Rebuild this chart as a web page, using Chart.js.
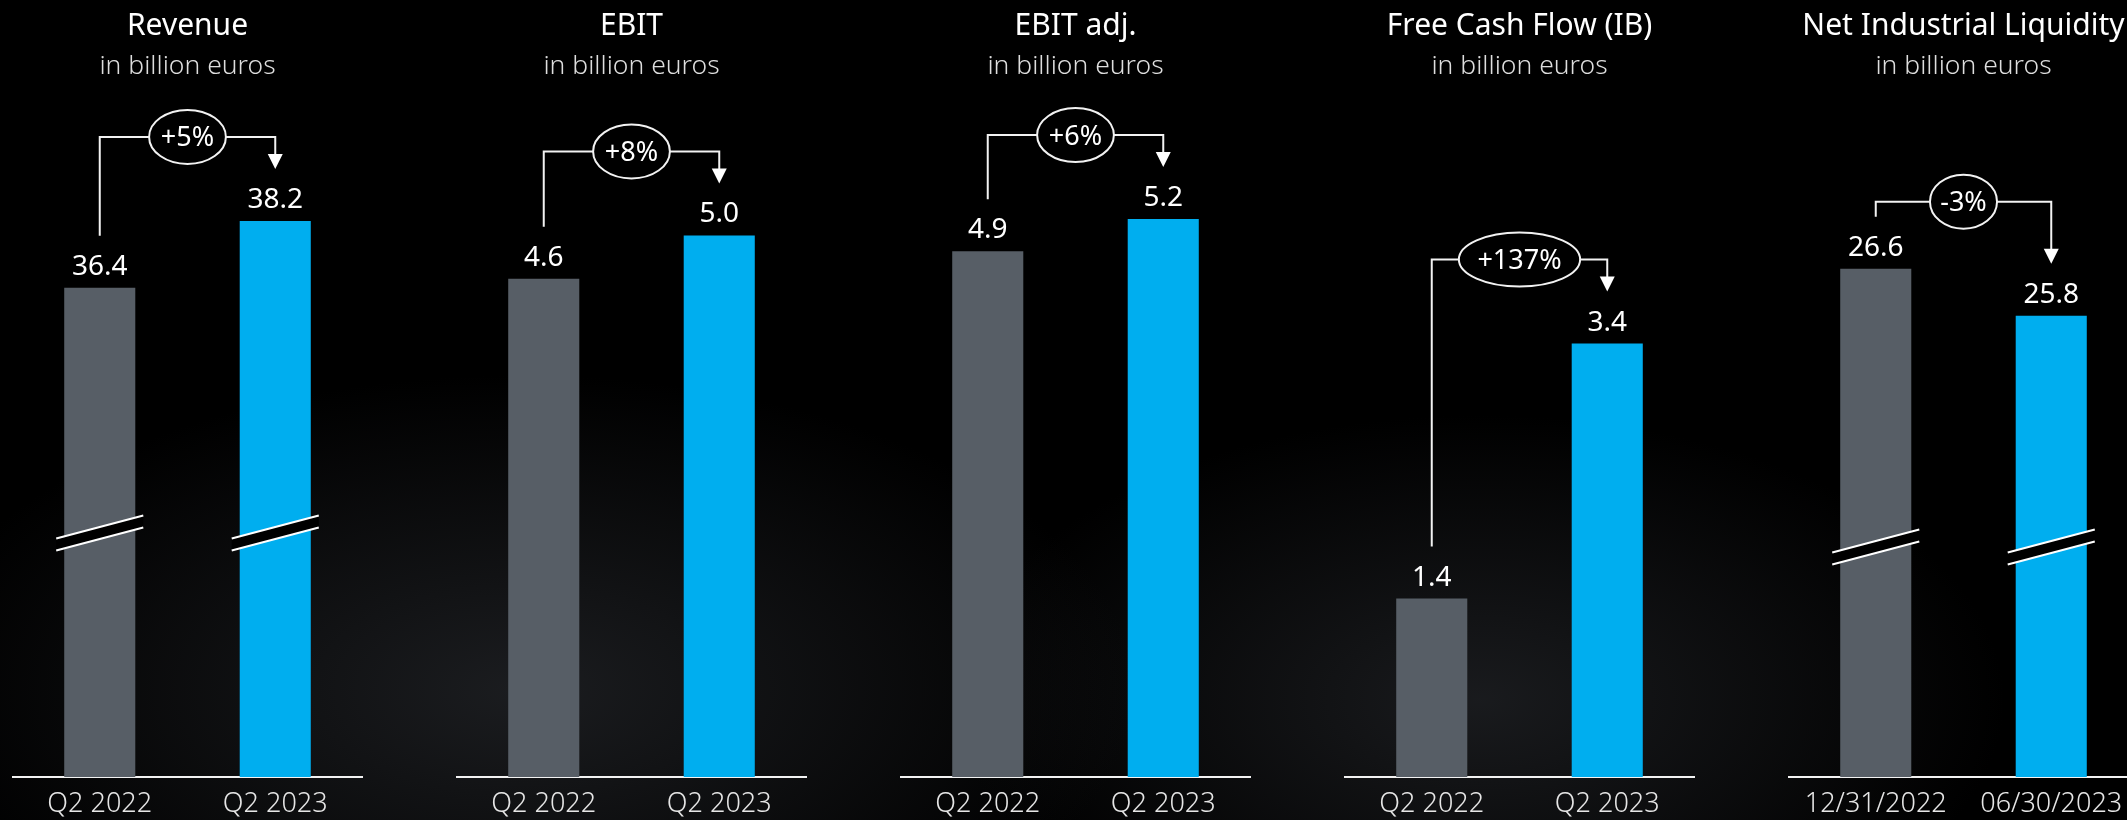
<!DOCTYPE html>
<html>
<head>
<meta charset="utf-8">
<script src="https://cdn.jsdelivr.net/npm/chart.js@4.4.0/dist/chart.umd.min.js"></script>
<style>
  html, body { margin: 0; padding: 0; width: 2127px; height: 820px; overflow: hidden; }
  body {
    position: relative;
    background:
      radial-gradient(ellipse 820px 420px at 520px 690px, rgba(36,38,42,0.75), rgba(0,0,0,0) 75%),
      radial-gradient(ellipse 700px 380px at 1480px 700px, rgba(36,38,42,0.7), rgba(0,0,0,0) 75%),
      #000;
  }
  .panel { position: absolute; top: 0; width: 351px; height: 820px; }
</style>
</head>
<body>
<script>
// chart data
const panelTitles = ['Revenue', 'EBIT', 'EBIT adj.', 'Free Cash Flow (IB)', 'Net Industrial Liquidity'];
const unitLabel = 'in billion euros';
const periodLabels = [
  ['Q2 2022', 'Q2 2023'],
  ['Q2 2022', 'Q2 2023'],
  ['Q2 2022', 'Q2 2023'],
  ['Q2 2022', 'Q2 2023'],
  ['12/31/2022', '06/30/2023']
];
const priorValues = [36.4, 4.6, 4.9, 1.4, 26.6];
const currentValues = [38.2, 5.0, 5.2, 3.4, 25.8];
const changeLabels = ['+5%', '+8%', '+6%', '+137%', '-3%'];

// axis ranges (revenue and liquidity use a broken axis)
const axisMin = [23.25, 0, 0, 0, 17.95];
const axisMax = [41.45, 6.25, 6.31, 5.31, 29.47];

// look
const bracketRise = [84, 84, 84, 84, 67];
const breakRise = [244, 0, 0, 0, 230];
const barColors = ['#575e66', '#00aeef'];
const fontFamily = "'Noto Sans', 'Open Sans', sans-serif";

const annotatePlugin = {
  id: 'annotate',
  afterDatasetsDraw(chart, args, opts) {
    const ctx = chart.ctx;
    const meta = chart.getDatasetMeta(0);
    const b0 = meta.data[0], b1 = meta.data[1];
    const area = chart.chartArea;
    const values = chart.data.datasets[0].data;
    ctx.save();

    // axis break marks
    if (opts.breakRise) {
      const yc = area.bottom - opts.breakRise;
      meta.data.forEach(bar => {
        const xl = bar.x - bar.width / 2 - 8;
        const xr = bar.x + bar.width / 2 + 8;
        const dy = (xr - xl) * 0.132;
        const g = 6;
        ctx.beginPath();
        ctx.moveTo(xl, yc + dy - g);
        ctx.lineTo(xr, yc - dy - g);
        ctx.lineTo(xr, yc - dy + g);
        ctx.lineTo(xl, yc + dy + g);
        ctx.closePath();
        ctx.fillStyle = '#000';
        ctx.fill();
        ctx.strokeStyle = '#fff';
        ctx.lineWidth = 2;
        ctx.beginPath();
        ctx.moveTo(xl, yc + dy - g); ctx.lineTo(xr, yc - dy - g);
        ctx.moveTo(xl, yc + dy + g); ctx.lineTo(xr, yc - dy + g);
        ctx.stroke();
      });
    }

    // value labels
    ctx.fillStyle = '#fff';
    ctx.textAlign = 'center';
    ctx.textBaseline = 'alphabetic';
    ctx.font = '28px ' + fontFamily;
    meta.data.forEach((bar, i) => {
      ctx.fillText(values[i].toFixed(1), bar.x, bar.y - 13);
    });

    // change bracket
    const yb = Math.min(b0.y, b1.y) - opts.bracketRise;
    const cx = (b0.x + b1.x) / 2;
    ctx.font = '27px ' + fontFamily;
    const tw = ctx.measureText(opts.change).width;
    const rx = tw * 0.72, ry = 27;
    ctx.strokeStyle = '#f2f2f2';
    ctx.lineWidth = 2;
    ctx.beginPath();
    ctx.moveTo(b0.x, b0.y - 52);
    ctx.lineTo(b0.x, yb);
    ctx.lineTo(cx - rx, yb);
    ctx.moveTo(cx + rx, yb);
    ctx.lineTo(b1.x, yb);
    ctx.lineTo(b1.x, b1.y - 64);
    ctx.stroke();
    ctx.beginPath();
    ctx.ellipse(cx, yb, rx, ry, 0, 0, Math.PI * 2);
    ctx.stroke();
    ctx.beginPath();
    ctx.moveTo(b1.x - 7.5, b1.y - 67);
    ctx.lineTo(b1.x + 7.5, b1.y - 67);
    ctx.lineTo(b1.x, b1.y - 52);
    ctx.closePath();
    ctx.fillStyle = '#fff';
    ctx.fill();
    ctx.fillText(opts.change, cx, yb + 9.5);

    ctx.restore();
  }
};

panelTitles.forEach((title, i) => {
  const div = document.createElement('div');
  div.className = 'panel';
  div.style.left = (12 + 444 * i) + 'px';
  const canvas = document.createElement('canvas');
  canvas.width = 351;
  canvas.height = 820;
  div.appendChild(canvas);
  document.body.appendChild(div);

  new Chart(canvas, {
    type: 'bar',
    data: {
      labels: periodLabels[i],
      datasets: [{
        data: [priorValues[i], currentValues[i]],
        backgroundColor: barColors,
        barPercentage: 0.405,
        categoryPercentage: 1
      }]
    },
    options: {
      responsive: false,
      animation: false,
      layout: { padding: 0 },
      scales: {
        x: {
          grid: { display: false, drawTicks: false },
          border: { display: true, color: '#f2f2f2', width: 2 },
          ticks: {
            color: '#e6e6e6',
            padding: 11,
            maxRotation: 0,
            autoSkip: false,
            font: { family: fontFamily, size: 27, weight: '300', lineHeight: 1.2 }
          },
          afterFit(scale) { scale.height = 43; }
        },
        y: { display: false, min: axisMin[i], max: axisMax[i] }
      },
      plugins: {
        legend: { display: false },
        tooltip: { enabled: false },
        title: {
          display: true,
          text: title,
          color: '#ffffff',
          padding: { top: 8, bottom: 4 },
          font: { family: fontFamily, size: 30, weight: 'normal', lineHeight: 1.2 }
        },
        subtitle: {
          display: true,
          text: unitLabel,
          color: '#dedede',
          padding: { top: 3, bottom: 17.2 },
          font: { family: fontFamily, size: 26.5, weight: '300', lineHeight: 1.2 }
        },
        annotate: {
          change: changeLabels[i],
          bracketRise: bracketRise[i],
          breakRise: breakRise[i]
        }
      }
    },
    plugins: [annotatePlugin]
  });
});
</script>
</body>
</html>
